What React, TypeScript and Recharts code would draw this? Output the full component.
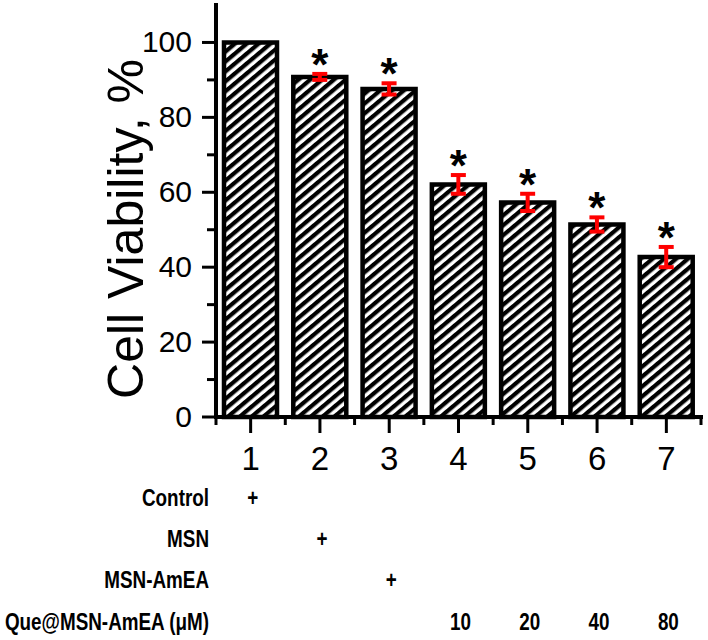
import { Bar, BarChart, ErrorBar, LabelList, XAxis, YAxis } from 'recharts';

const groups = [1, 2, 3, 4, 5, 6, 7];
const viability = [100, 90.8, 87.6, 62.1, 57.3, 51.4, 42.7];
const viabilityErr = [0, 0.8, 1.5, 2.5, 2.3, 1.9, 2.7];
const significant = [false, true, true, true, true, true, true];

const rowLabels = ['Control', 'MSN', 'MSN-AmEA', 'Que@MSN-AmEA (μM)'];
const rowMarks = [
  ['+', '', '', '', '', '', ''],
  ['', '+', '', '', '', '', ''],
  ['', '', '+', '', '', '', ''],
  ['', '', '', '10', '20', '40', '80'],
];

const yTicks = [0, 10, 20, 30, 40, 50, 60, 70, 80, 90, 100];
const xTicks = [0.5, 1, 1.5, 2, 2.5, 3, 3.5, 4, 4.5, 5, 5.5, 6, 6.5, 7, 7.5];

const data = groups.map((g, i) => ({
  group: g,
  value: viability[i],
  err: viabilityErr[i],
}));

const FONT = 'Liberation Sans, Arial, sans-serif';
const rowBaselines = [89, 130, 171, 213];

function YTick({ x, y, payload }: any) {
  const v = payload.value as number;
  const major = v % 20 === 0;
  return (
    <g>
      <line x1={x} x2={x - (major ? 14 : 9)} y1={y} y2={y} stroke="#000" strokeWidth={3} />
      {major && (
        <text x={x - 24} y={y + 9.5} textAnchor="end" fontSize={30} fontFamily={FONT} fill="#000">
          {v}
        </text>
      )}
    </g>
  );
}

function XTick({ x, y, payload }: any) {
  const v = payload.value as number;
  const major = Number.isInteger(v);
  const idx = v - 1;
  return (
    <g>
      <line x1={x} x2={x} y1={y} y2={y + (major ? 16 : 8)} stroke="#000" strokeWidth={3} />
      {major && (
        <text x={x} y={y + 53} textAnchor="middle" fontSize={33} fontFamily={FONT} fill="#000">
          {v}
        </text>
      )}
      {major &&
        rowMarks.map((row, r) =>
          row[idx] ? (
            <text
              key={r}
              transform={`translate(${x + 2},${y + rowBaselines[r]}) scale(0.82,1)`}
              textAnchor="middle"
              fontSize={23}
              fontWeight="bold"
              fontFamily={FONT}
              fill="#000"
            >
              {row[idx]}
            </text>
          ) : null,
        )}
      {v === 0.5 &&
        rowLabels.map((label, r) => (
          <text
            key={label}
            transform={`translate(${x - 7},${y + rowBaselines[r]}) scale(0.82,1)`}
            textAnchor="end"
            fontSize={23}
            fontWeight="bold"
            fontFamily={FONT}
            fill="#000"
          >
            {label}
          </text>
        ))}
    </g>
  );
}

function YLabel({ viewBox }: any) {
  const cx = 143;
  const cy = viewBox.y + viewBox.height / 2 + 18;
  return (
    <text
      transform={`translate(${cx},${cy}) rotate(-90)`}
      textAnchor="middle"
      fontSize={50}
      fontFamily={FONT}
      fill="#000"
    >
      Cell Viability, %
    </text>
  );
}

function Star(props: any) {
  const { x, y, width, height, index, value } = props;
  if (!significant[index]) return null;
  const pxPerUnit = height / value;
  const top = y - viabilityErr[index] * pxPerUnit;
  return (
    <text
      x={x + width / 2}
      y={top + 6}
      textAnchor="middle"
      fontSize={44}
      fontWeight="bold"
      fontFamily={FONT}
      fill="#000"
    >
      *
    </text>
  );
}

export default function App() {
  return (
    <div style={{ position: 'absolute', left: 0, top: 0, width: 708, height: 640, background: '#fff' }}>
      <BarChart width={708} height={640} data={data} margin={{ top: 5, right: 7, left: 0, bottom: 0 }}>
        <defs>
          <pattern id="hatch" patternUnits="userSpaceOnUse" width={7.6} height={7.6} patternTransform="rotate(50)">
            <rect x={0} y={0} width={4.2} height={7.6} fill="#000" />
          </pattern>
        </defs>
        <XAxis
          dataKey="group"
          type="number"
          domain={[0.5, 7.5]}
          ticks={xTicks}
          interval={0}
          height={223}
          tickSize={0}
          tickMargin={0}
          tickLine={false}
          axisLine={{ stroke: '#000', strokeWidth: 4, strokeLinecap: 'square' }}
          tick={<XTick />}
        />
        <YAxis
          type="number"
          domain={[0, 110]}
          ticks={yTicks}
          interval={0}
          width={216}
          tickSize={0}
          tickMargin={0}
          tickLine={false}
          axisLine={{ stroke: '#000', strokeWidth: 4, strokeLinecap: 'square' }}
          tick={<YTick />}
          label={<YLabel />}
        />
        <Bar dataKey="value" barSize={53} fill="url(#hatch)" stroke="#000" strokeWidth={4.5} isAnimationActive={false}>
          <ErrorBar dataKey="err" direction="y" width={7.5} stroke="#ff0000" strokeWidth={4} />
          <LabelList dataKey="value" content={<Star />} />
        </Bar>
      </BarChart>
    </div>
  );
}
